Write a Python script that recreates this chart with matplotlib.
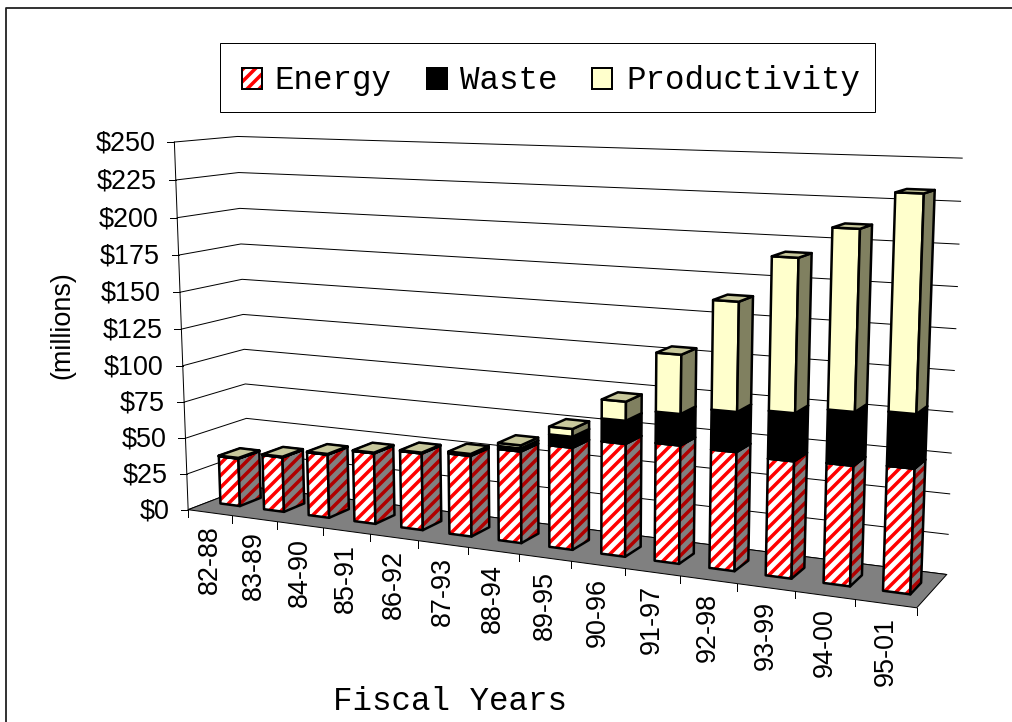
import numpy as np
import matplotlib
matplotlib.use("Agg")
from matplotlib import pyplot as plt

categories = ['82-88', '83-89', '84-90', '85-91', '86-92', '87-93', '88-94',
              '89-95', '90-96', '91-97', '92-98', '93-99', '94-00', '95-01']
energy = [33.5, 38, 43.5, 48, 51.5, 53.5, 60, 66, 72, 74.5, 74, 72, 73, 75]
waste = [0.2, 0.2, 0.2, 0.2, 0.3, 1, 2, 7, 14.5, 19.5, 24.5, 29, 32, 32]
productivity = [0.3, 0.3, 0.3, 0.3, 0.3, 0.3, 2, 5, 12, 36.5, 66.5, 92, 106.5, 126]
value_ticks = [0, 25, 50, 75, 100, 125, 150, 175, 200, 225, 250]

# calibration of the 3d view: (cat, depth, value) -> pixel
calib = [
    (0, 0, 250, 174.3, 142.3), (0, 0, 125, 181, 329.7), (0, 0, 0, 188.3, 510),
    (0, 1, 250, 238.3, 136), (0, 1, 125, 242.3, 314.3), (0, 1, 0, 249, 486),
    (14, 1, 250, 961.7, 158), (14, 1, 125, 955, 370.7), (14, 1, 0, 946, 575.7),
    (14, 0, 0, 917.7, 608), (5, 0, 0, 418, 541), (12, 0, 0, 795.7, 590),
    (13, 0, 0, 854, 599),
]


def fit_camera(points):
    rows = []
    rhs = []
    for x, y, z, u, v in points:
        rows.append([x, y, z, 1, 0, 0, 0, 0, -u*x, -u*y, -u*z])
        rows.append([0, 0, 0, 0, x, y, z, 1, -v*x, -v*y, -v*z])
        rhs += [u, v]
    p = np.linalg.lstsq(np.array(rows, dtype=float), np.array(rhs, dtype=float), rcond=None)[0]
    return np.append(p, 1).reshape(3, 4)


cam = fit_camera(calib)


def proj(x, y, z):
    u, v, w = cam @ np.array([x, y, z, 1.0])
    return u/w, v/w


plt.rcParams['hatch.linewidth'] = 3.5
fig = plt.figure(figsize=(1012/72, 722/72), dpi=72)
ax = fig.add_axes([0, 0, 1, 1])
ax.set_xlim(0, 1012)
ax.set_ylim(722, 0)
ax.axis('off')

sans = 'Liberation Sans'
mono = 'Liberation Mono'

# chart border, left and top only are inside the picture
ax.plot([6.5, 6.5, 1020], [730, 7.5, 7.5], color='#202020', lw=1.8)

# walls
for v in value_ticks:
    pts = [proj(0, 0, v), proj(0, 1, v), proj(14, 1, v)]
    ax.plot(*zip(*pts), color='black', lw=1, zorder=1)
    px, py = pts[0]
    ax.plot([px-7, px], [py, py], color='black', lw=1, zorder=1)
    ax.text(px-19, py-1.5, '$%d' % v, family=sans, fontsize=27, ha='right', va='center_baseline')
ax.plot(*zip(proj(0, 0, 0), proj(0, 0, 250)), color='black', lw=1, zorder=1)

# floor
floor = [proj(0, 0, 0), proj(14, 0, 0), proj(14, 1, 0), proj(0, 1, 0)]
ax.fill(*zip(*floor), facecolor='#808080', edgecolor='black', lw=1, zorder=2)

# category ticks and labels
for i in range(len(categories)+1):
    px, py = proj(i, 0, 0)
    ax.plot([px, px], [py, py+7], color='black', lw=1, zorder=2)
for i, c in enumerate(categories):
    px, py = proj(i+0.5, 0, 0)
    ax.text(px, py+13, c, family=sans, fontsize=27, rotation=90, ha='center', va='top')

bar_left, bar_right = 0.28, 0.73
bar_front, bar_back = 0.325, 0.675


def face(pts, fc, hatch_color=None, zorder=3):
    xs, ys = zip(*pts)
    if hatch_color:
        ax.fill(xs, ys, facecolor=fc, edgecolor=hatch_color, hatch='//', lw=0, zorder=zorder)
    else:
        ax.fill(xs, ys, facecolor=fc, lw=0, zorder=zorder)
    ax.fill(xs, ys, fill=False, edgecolor='black', lw=2.5, joinstyle='round', zorder=zorder)


styles = [
    (('white', 'red'), ('#808080', '#b00000'), ('#808080', None)),
    (('black', None), ('black', None), ('black', None)),
    (('#ffffcc', None), ('#808060', None), ('#c8c89c', None)),
]

order = 3
for i in range(len(categories)):
    x0, x1 = i+bar_left, i+bar_right
    base = 0
    for vals, (front, side, top) in zip((energy, waste, productivity), styles):
        h = base+vals[i]
        face([proj(x0, bar_front, base), proj(x1, bar_front, base),
              proj(x1, bar_front, h), proj(x0, bar_front, h)], front[0], front[1], order)
        face([proj(x1, bar_front, base), proj(x1, bar_back, base),
              proj(x1, bar_back, h), proj(x1, bar_front, h)], side[0], side[1], order)
        face([proj(x0, bar_front, h), proj(x1, bar_front, h),
              proj(x1, bar_back, h), proj(x0, bar_back, h)], top[0], top[1], order)
        base = h
        order += 1

# legend
ax.fill([220.5, 875, 875, 220.5], [42.5, 42.5, 112, 112], facecolor='white', edgecolor='black', lw=1, zorder=50)
legend_items = [('Energy', 242, 'white', 'red', 274), ('Waste', 427, 'black', None, 460),
                ('Productivity', 592, '#ffffcc', None, 626)]
for name, sx, fc, hc, tx in legend_items:
    xs = [sx, sx+20.5, sx+20.5, sx]
    ys = [68, 68, 89, 89]
    if hc:
        ax.fill(xs, ys, facecolor=fc, edgecolor=hc, hatch='//', lw=0, zorder=51)
    else:
        ax.fill(xs, ys, facecolor=fc, lw=0, zorder=51)
    ax.fill(xs, ys, fill=False, edgecolor='black', lw=2, zorder=51)
    ax.text(tx, 89, name, family=mono, fontsize=32.5, ha='left', va='baseline', zorder=52)

ax.text(62, 325, '(millions)', family=sans, fontsize=27, rotation=90, ha='center', va='center')
ax.text(450, 701, 'Fiscal Years', family=mono, fontsize=32.5, ha='center', va='center')

fig.savefig('out.png', dpi=72)
